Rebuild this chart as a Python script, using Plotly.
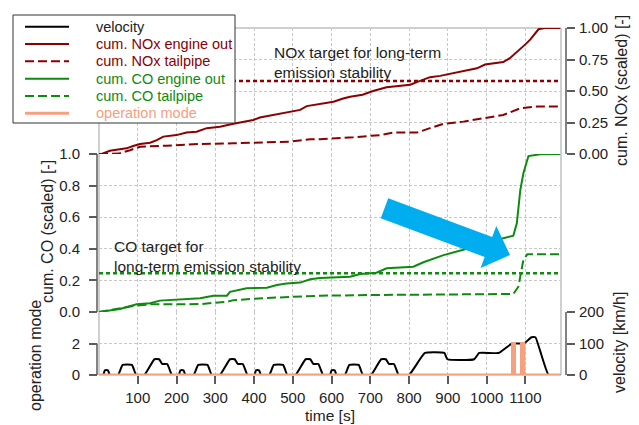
import math
import plotly.graph_objects as go

# ---------------- data ----------------
time_velocity = [0, 11, 15, 23, 28, 49, 61, 85, 96, 117, 143, 155, 163, 176, 188,
                 195, 206, 210, 218, 223, 244, 256, 280, 291, 312, 338, 350, 358, 371, 383,
                 390, 401, 405, 413, 418, 439, 451, 475, 486, 507, 533, 545, 553, 566, 578,
                 585, 596, 600, 608, 613, 634, 646, 670, 681, 702, 728, 740, 748, 761, 773,
                 780, 800, 841, 891, 899, 968, 981, 1031, 1066, 1096, 1116, 1126, 1160, 1190]
velocity = [0, 0, 15, 15, 0, 0, 32, 32, 0, 0, 50, 50, 35, 35, 0,
            0, 0, 15, 15, 0, 0, 32, 32, 0, 0, 50, 50, 35, 35, 0,
            0, 0, 15, 15, 0, 0, 32, 32, 0, 0, 50, 50, 35, 35, 0,
            0, 0, 15, 15, 0, 0, 32, 32, 0, 0, 50, 50, 35, 35, 0,
            0, 0, 70, 70, 50, 50, 70, 70, 100, 100, 120, 120, 0, 0]

time_nox_eo = [0, 7, 28, 54, 71, 88, 106, 132, 149, 166, 200, 226, 252, 278, 312,
               347, 398, 415, 450, 476, 519, 536, 570, 605, 630, 648, 680, 707, 742, 770,
               803, 820, 837, 854, 880, 914, 950, 975, 996, 1020, 1043, 1060, 1075, 1087,
               1100, 1113, 1125, 1134, 1150, 1190]
nox_eo = [0, 0, 0.026, 0.04, 0.045, 0.064, 0.08, 0.09, 0.11, 0.138, 0.15, 0.17, 0.177, 0.205, 0.217,
          0.24, 0.27, 0.29, 0.31, 0.33, 0.35, 0.38, 0.40, 0.415, 0.44, 0.455, 0.47, 0.50, 0.53, 0.54,
          0.55, 0.57, 0.59, 0.61, 0.62, 0.64, 0.66, 0.68, 0.71, 0.72, 0.73, 0.76, 0.80, 0.83,
          0.87, 0.91, 0.96, 0.99, 1.0, 1.0]

time_nox_tp = [0, 50, 80, 106, 175, 261, 347, 433, 493, 545, 570, 656, 725, 760, 820,
               854, 889, 940, 1000, 1043, 1060, 1087, 1130, 1190]
nox_tp = [0, 0.003, 0.03, 0.058, 0.066, 0.08, 0.085, 0.09, 0.098, 0.117, 0.118, 0.133, 0.15, 0.17, 0.17,
          0.205, 0.24, 0.257, 0.29, 0.31, 0.33, 0.363, 0.376, 0.376]

time_co_eo = [0, 54, 97, 132, 157, 226, 261, 295, 330, 338, 381, 433, 459, 484, 519,
              545, 570, 648, 674, 716, 742, 811, 837, 889, 949, 983, 1026, 1069, 1078, 1087,
              1095, 1108, 1138, 1190]
co_eo = [0, 0.019, 0.049, 0.055, 0.072, 0.082, 0.087, 0.103, 0.103, 0.128, 0.15, 0.154, 0.171, 0.18, 0.186,
         0.207, 0.215, 0.223, 0.24, 0.249, 0.277, 0.287, 0.315, 0.36, 0.40, 0.413, 0.456, 0.483, 0.561, 0.772,
         0.878, 0.987, 0.998, 1.0]

time_co_tp = [0, 88, 132, 261, 330, 347, 433, 570, 725, 1069, 1082, 1095, 1105, 1190]
co_tp = [0, 0.038, 0.049, 0.05, 0.065, 0.075, 0.089, 0.103, 0.108, 0.114, 0.16, 0.33, 0.365, 0.365]

time_mode = [0, 1067, 1067, 1072, 1072, 1090, 1090, 1096, 1096, 1190]
operation_mode = [0, 0, 2, 2, 0, 0, 2, 2, 0, 0]

NOX_TARGET = 0.58
CO_TARGET = 0.245
TIME_RANGE = [0, 1192]
x_ticks = [100, 200, 300, 400, 500, 600, 700, 800, 900, 1000, 1100]
nox_ticks = [0, 0.25, 0.5, 0.75, 1.0]
co_ticks = [0, 0.2, 0.4, 0.6, 0.8, 1.0]
vel_ticks = [0, 100, 200]
mode_ticks = [0, 2]

legend_labels = ["velocity", "cum. NOx engine out", "cum. NOx tailpipe",
                 "cum. CO engine out", "cum. CO tailpipe", "operation mode"]

# ---------------- style ----------------
W, H = 639, 425
L, R, T, B = 97, 73, 28, 50
PW, PH = W - L - R, H - T - B
FONT = "Liberation Sans, Arial, sans-serif"
C_NOX = "#8B0000"
C_CO = "#0E8A0E"
C_MODE = "#F5A07E"
C_AX = "#5a5a5a"
C_GRID = "#c8c8c8"
DASH = "9px,4px"
DOT = "4px,3px"


def px_x(p):
    return (p - L) / PW


def px_y(p):
    return (H - B - p) / PH


d_nox = [px_y(154), 1.0]
d_co = [px_y(312), px_y(154)]
d_vel = [0.0, px_y(312)]
x_dom = [px_x(99), px_x(561)]

legend_styles = [
    dict(color="black", width=2, dash="solid"),
    dict(color=C_NOX, width=2, dash="solid"),
    dict(color=C_NOX, width=2, dash=DASH),
    dict(color=C_CO, width=2, dash="solid"),
    dict(color=C_CO, width=2, dash=DASH),
    dict(color=C_MODE, width=3, dash="solid"),
]

fig = go.Figure()

fig.add_trace(go.Scatter(x=time_velocity, y=velocity, yaxis="y3", mode="lines",
                         line=dict(color="black", width=2, shape="spline", smoothing=0.4),
                         name=legend_labels[0]))
fig.add_trace(go.Scatter(x=time_nox_eo, y=nox_eo, yaxis="y", mode="lines",
                         line=legend_styles[1], name=legend_labels[1]))
fig.add_trace(go.Scatter(x=time_nox_tp, y=nox_tp, yaxis="y", mode="lines",
                         line=legend_styles[2], name=legend_labels[2]))
fig.add_trace(go.Scatter(x=time_co_eo, y=co_eo, yaxis="y2", mode="lines",
                         line=legend_styles[3], name=legend_labels[3]))
fig.add_trace(go.Scatter(x=time_co_tp, y=co_tp, yaxis="y2", mode="lines",
                         line=legend_styles[4], name=legend_labels[4]))
fig.add_trace(go.Scatter(x=time_mode, y=operation_mode, yaxis="y4", mode="lines",
                         line=legend_styles[5], name=legend_labels[5]))
fig.add_trace(go.Scatter(x=TIME_RANGE, y=[NOX_TARGET, NOX_TARGET], yaxis="y", mode="lines",
                         line=dict(color=C_NOX, width=2.5, dash=DOT), name="NOx target"))
fig.add_trace(go.Scatter(x=TIME_RANGE, y=[CO_TARGET, CO_TARGET], yaxis="y2", mode="lines",
                         line=dict(color=C_CO, width=2.5, dash=DOT), name="CO target"))

tickfont = dict(family=FONT, size=15, color="#222")
common_y = dict(showline=False, zeroline=False, ticks="outside", ticklen=8, tickwidth=1.5,
                tickcolor=C_AX, tickfont=tickfont, gridcolor=C_GRID, griddash="3px,2px",
                anchor="free", fixedrange=True)

fig.update_layout(
    width=W, height=H, margin=dict(l=L, r=R, t=T, b=B, autoexpand=False),
    paper_bgcolor="white", plot_bgcolor="white",
    font=dict(family=FONT, size=15, color="#222"),
    showlegend=False,
    xaxis=dict(domain=x_dom, range=TIME_RANGE, tickvals=x_ticks, ticks="outside", ticklen=8,
               tickwidth=1.5, tickcolor=C_AX, tickfont=tickfont, showgrid=True,
               gridcolor=C_GRID, griddash="3px,2px", zeroline=False, showline=False,
               anchor="y3", ticklabelstandoff=1, fixedrange=True),
    yaxis=dict(domain=d_nox, range=[0, 1], tickvals=nox_ticks, tickformat=".2f",
               side="right", position=1.0, ticklabelstandoff=1, **common_y),
    yaxis2=dict(domain=d_co, range=[0, 1], tickvals=co_ticks, tickformat=".1f",
                side="left", position=0.0, ticklabelstandoff=6, **common_y),
    yaxis3=dict(domain=d_vel, range=[0, 200], tickvals=vel_ticks,
                side="right", position=1.0, ticklabelstandoff=1, **common_y),
    yaxis4=dict(overlaying="y3", range=[0, 4], tickvals=mode_ticks, side="left",
                position=0.0, showgrid=False, zeroline=False, showline=False, ticks="outside",
                ticklen=8, tickwidth=1.5, tickcolor=C_AX, tickfont=tickfont, anchor="free",
                ticklabelstandoff=6, fixedrange=True),
)

shapes = []
# plot frame
shapes.append(dict(type="rect", xref="paper", yref="paper", x0=x_dom[0], x1=x_dom[1], y0=0, y1=1,
                   line=dict(color="#a0a0a0", width=1), layer="between"))
# axis lines spanning their tick range
axline = dict(color=C_AX, width=1.5)
shapes.append(dict(type="line", xref="paper", yref="y", x0=1, x1=1, y0=0, y1=1, line=axline))
shapes.append(dict(type="line", xref="paper", yref="y2", x0=0, x1=0, y0=0, y1=1, line=axline))
shapes.append(dict(type="line", xref="paper", yref="y3", x0=1, x1=1, y0=0, y1=200, line=axline))
shapes.append(dict(type="line", xref="paper", yref="y4", x0=0, x1=0, y0=0, y1=2, line=axline))

# blue arrow (pixel geometry)
tail = (384.5, 208.3)
tip = (510.0, 255.0)
shaft_hw, head_hw, head_len = 10.7, 22.5, 23.0
dx, dy = tip[0] - tail[0], tip[1] - tail[1]
ln = math.hypot(dx, dy)
ux, uy = dx / ln, dy / ln
nx, ny = -uy, ux
bx, by = tip[0] - ux * head_len, tip[1] - uy * head_len
pts = [
    (tail[0] + nx * shaft_hw, tail[1] + ny * shaft_hw),
    (bx + nx * shaft_hw, by + ny * shaft_hw),
    (bx + nx * head_hw, by + ny * head_hw),
    tip,
    (bx - nx * head_hw, by - ny * head_hw),
    (bx - nx * shaft_hw, by - ny * shaft_hw),
    (tail[0] - nx * shaft_hw, tail[1] - ny * shaft_hw),
]
path = "M " + " L ".join(f"{px_x(p[0]):.5f},{px_y(p[1]):.5f}" for p in pts) + " Z"
shapes.append(dict(type="path", xref="paper", yref="paper", path=path,
                   fillcolor="#00AEEF", line=dict(width=0), layer="above"))

# legend box (manual, for compact row spacing)
LG_L, LG_T, LG_R, LG_B = 13, 15, 235, 123
shapes.append(dict(type="rect", xref="paper", yref="paper", x0=px_x(LG_L), x1=px_x(LG_R),
                   y0=px_y(LG_B), y1=px_y(LG_T), fillcolor="white",
                   line=dict(color="#333", width=1), layer="above"))
row_y = [26.7, 44.0, 61.3, 78.7, 96.0, 113.3]
for ry, st in zip(row_y, legend_styles):
    shapes.append(dict(type="line", xref="paper", yref="paper", x0=px_x(25), x1=px_x(69),
                       y0=px_y(ry), y1=px_y(ry), line=st, layer="above"))
fig.update_layout(shapes=shapes)

annfont = dict(family=FONT, size=15.5, color="#222")
titlefont = dict(family=FONT, size=16, color="#222")
anns = [
    dict(text="NOx target for long-term<br>emission stability", x=px_x(272), y=px_y(62.5),
         xanchor="left", yanchor="middle", align="left", font=annfont),
    dict(text="CO target for<br>long-term emission stability", x=px_x(112), y=px_y(256),
         xanchor="left", yanchor="middle", align="left", font=annfont),
    dict(text="cum. NOx (scaled) [-]", x=px_x(622), y=px_y(91), textangle=-90,
         xanchor="center", yanchor="middle", font=titlefont),
    dict(text="velocity [km/h]", x=px_x(619), y=px_y(343), textangle=-90,
         xanchor="center", yanchor="middle", font=titlefont),
    dict(text="cum. CO (scaled) [-]", x=px_x(47), y=px_y(232), textangle=-90,
         xanchor="center", yanchor="middle", font=titlefont),
    dict(text="operation mode", x=px_x(35), y=px_y(356), textangle=-90,
         xanchor="center", yanchor="middle", font=titlefont),
    dict(text="time [s]", x=px_x(330), y=px_y(415.5),
         xanchor="center", yanchor="middle", font=dict(family=FONT, size=15.5, color="#222")),
]
for ry, lab, st in zip(row_y, legend_labels, legend_styles):
    anns.append(dict(text=lab, x=px_x(94), y=px_y(ry), xanchor="left", yanchor="middle",
                     font=dict(family=FONT, size=14.5,
                               color=("#222" if st["color"] == "black" else st["color"]))))
for a in anns:
    a.update(xref="paper", yref="paper", showarrow=False)
fig.update_layout(annotations=anns)

fig.write_html("out.html", config={"displayModeBar": False},
               post_script="document.body.style.margin='0px';document.body.style.overflow='hidden';")
